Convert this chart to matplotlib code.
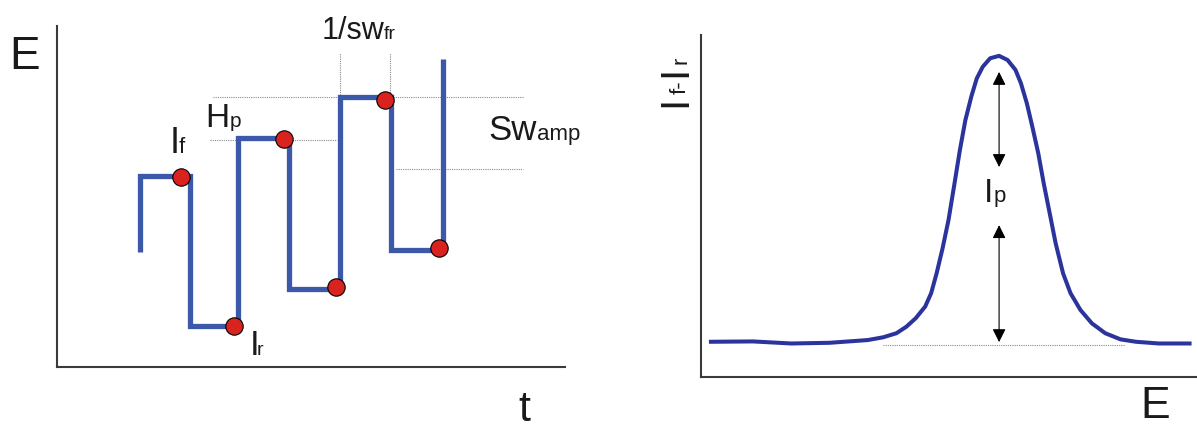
import matplotlib
matplotlib.use('Agg')
import matplotlib.pyplot as plt
import numpy as np

plt.rcParams['font.family'] = ['Liberation Sans', 'DejaVu Sans']

# --- left panel: square-wave potential vs time (arbitrary units) ---
step_times = [1.63, 2.62, 3.56, 4.57, 5.57, 6.57, 7.60]
step_levels = [3.37, 5.60, 1.20, 6.72, 2.29, 7.92, 3.43, 9.03]
sample_times = [2.45, 3.48, 4.47, 5.49, 6.46, 7.52]
sample_levels = [5.58, 1.20, 6.69, 2.35, 7.83, 3.49]

# guide lines (dotted), as (t0, t1, E0, E1)
guides = [
    (3.07, 9.17, 7.92, 7.92),
    (3.01, 5.51, 6.66, 6.66),
    (6.67, 9.17, 5.81, 5.81),
    (5.57, 5.57, 7.92, 9.21),
    (6.56, 6.56, 7.92, 9.21),
]

# --- right panel: net current If - Ir vs E (arbitrary units) ---
E_scan = [2.0, 10.5, 18.2, 25.9, 33.6, 36.7, 39.4, 41.4, 43.3, 45.2,
          46.4, 47.5, 48.7, 49.9, 51.0, 52.2, 53.3, 54.5, 55.6, 56.8,
          58.3, 60.1, 61.8, 63.4, 64.5, 65.7, 66.8, 68.0, 69.1, 70.3,
          71.5, 73.0, 74.5, 76.5, 78.8, 81.5, 84.6, 87.7, 92.3, 98.5]
I_net = [10.3, 10.4, 9.8, 10.0, 10.8, 11.6, 12.8, 14.7, 17.2, 20.6,
         24.5, 30.3, 37.6, 45.9, 55.6, 66.4, 75.1, 82.0, 87.3, 90.7,
         93.2, 93.9, 92.7, 89.8, 85.9, 80.0, 73.2, 65.4, 56.6, 47.9,
         39.1, 30.3, 24.5, 19.6, 15.7, 12.8, 11.0, 10.3, 9.8, 9.8]
peak_E = 60.1
peak_top = 89.2
peak_mid_hi = 61.4
peak_mid_lo = 44.4
baseline_I = 10.2
baseline_span = (36.7, 85.5)
baseline_level = 9.4

W, H = 1197, 428
fig = plt.figure(figsize=(W / 100, H / 100), dpi=100)


def px(x, y):
    return x / W, 1 - y / H


axis_color = '#3a3a3a'
wave_color = '#3c58a8'
curve_color = '#2b349c'
guide_style = dict(color='#8a8a8a', lw=0.8, linestyle=(0, (1, 1)))

# left axes
ax1 = fig.add_axes([57 / W, 1 - 367 / H, (565 - 57) / W, (367 - 26) / H])
ax1.set_xlim(0, 10)
ax1.set_ylim(0, 10)
for s in ['top', 'right']:
    ax1.spines[s].set_visible(False)
for s in ['left', 'bottom']:
    ax1.spines[s].set_color(axis_color)
    ax1.spines[s].set_linewidth(1.5)
ax1.set_xticks([])
ax1.set_yticks([])
ax1.patch.set_alpha(0)

for t0, t1, e0, e1 in guides:
    ax1.plot([t0, t1], [e0, e1], **guide_style, zorder=1)

xs, ys = [], []
for i, t in enumerate(step_times):
    xs += [t, t]
    ys += [step_levels[i], step_levels[i + 1]]
ax1.plot(xs, ys, color=wave_color, lw=3.8, solid_joinstyle='miter',
         solid_capstyle='butt', zorder=2)
ax1.plot(sample_times, sample_levels, 'o', color='#d8231e', markersize=12.5,
         markeredgecolor='black', markeredgewidth=0.8, zorder=3)

# right axes
ax2 = fig.add_axes([701 / W, 1 - 377 / H, (W - 701) / W, (377 - 35) / H])
ax2.set_xlim(0, 100)
ax2.set_ylim(0, 100)
for s in ['top', 'right']:
    ax2.spines[s].set_visible(False)
for s in ['left', 'bottom']:
    ax2.spines[s].set_color(axis_color)
    ax2.spines[s].set_linewidth(1.5)
ax2.set_xticks([])
ax2.set_yticks([])
ax2.patch.set_alpha(0)

ax2.plot(baseline_span, [baseline_level, baseline_level], **guide_style, zorder=1)
ax2.plot(E_scan, I_net, color=curve_color, lw=2.9, solid_joinstyle='round', zorder=2)

arrow = dict(arrowstyle='<|-|>', color='black', lw=0.8, mutation_scale=20,
             shrinkA=0, shrinkB=0)
ax2.annotate('', xy=(peak_E, peak_top), xytext=(peak_E, peak_mid_hi), arrowprops=arrow)
ax2.annotate('', xy=(peak_E, peak_mid_lo), xytext=(peak_E, baseline_I), arrowprops=arrow)

# labels
txt = dict(color='#1a1a1a', ha='left', va='baseline')
fig.text(*px(9.5, 69), 'E', fontsize=33, **txt)
fig.text(*px(518, 421), 't', fontsize=31, **txt)
fig.text(*px(322, 39), '1/sw', fontsize=22, **txt)
fig.text(*px(384, 39), 'fr', fontsize=14, **txt)
fig.text(*px(205, 127), 'H', fontsize=24, **txt)
fig.text(*px(230, 127), 'p', fontsize=15, **txt)
fig.text(*px(169.5, 153), 'I', fontsize=26, **txt)
fig.text(*px(179, 153), 'f', fontsize=16, **txt)
fig.text(*px(249.5, 355), 'I', fontsize=25, **txt)
fig.text(*px(257, 355), 'r', fontsize=14, **txt)
fig.text(*px(488.5, 140), 'Sw', fontsize=25, **txt)
fig.text(*px(537, 140), 'amp', fontsize=16, **txt)
fig.text(*px(984, 202), 'I', fontsize=24, **txt)
fig.text(*px(994, 202), 'p', fontsize=16, **txt)
fig.text(*px(1140, 427), 'E', fontsize=32, color='#1a1a1a', ha='left', va='bottom')

rot = dict(color='#1a1a1a', ha='left', va='baseline', rotation=90,
           rotation_mode='anchor')
fig.text(*px(686, 107), 'I', fontsize=29, **rot)
fig.text(*px(686, 94), 'f-', fontsize=16, **rot)
fig.text(*px(686, 77), 'I', fontsize=29, **rot)
fig.text(*px(686, 64.5), 'r', fontsize=16, **rot)

fig.savefig('out.png', dpi=100)
